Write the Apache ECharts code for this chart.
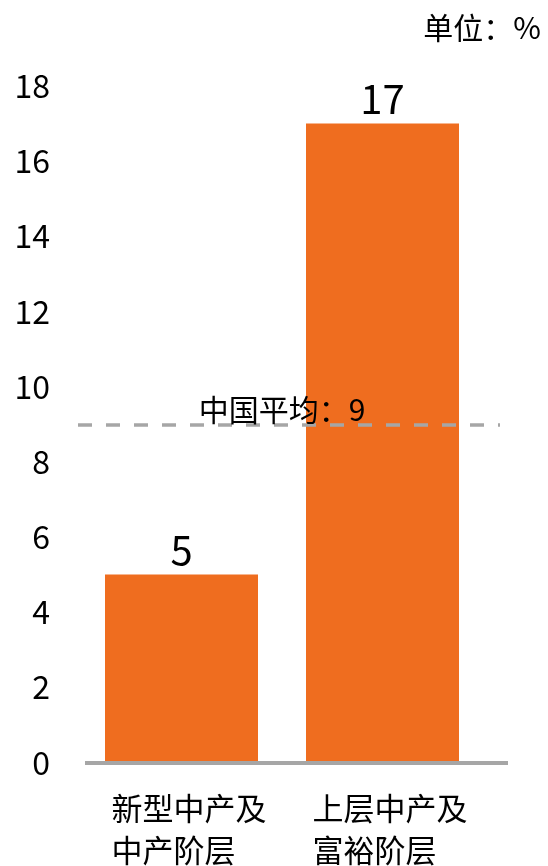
<!DOCTYPE html>
<html>
<head>
<meta charset="utf-8">
<script src="https://cdn.jsdelivr.net/npm/echarts@6/dist/echarts.min.js"></script>
<style>
html,body{margin:0;padding:0;background:#fff;}
#c{width:548px;height:866px;}
</style>
</head>
<body>
<div id="c"></div>
<script>
const categories = [["新型中产及", "中产阶层"], ["上层中产及", "富裕阶层"]];
const values = [5, 17];
const averageValue = 9;
const averageLabel = "中国平均：";
const unitText = "单位：%";
const yTicks = { min: 0, max: 18, interval: 2 };

const FONT = '"Noto Sans CJK SC", "Noto Sans", sans-serif';
const chart = echarts.init(document.getElementById('c'), null, { renderer: 'canvas' });

chart.setOption({
  animation: false,
  backgroundColor: '#ffffff',
  title: {
    text: unitText,
    right: 2,
    top: 8,
    textStyle: { fontFamily: FONT, fontSize: 30, fontWeight: 'normal', color: '#000' }
  },
  grid: { left: 81, width: 402, top: 86, bottom: 97, containLabel: false },
  xAxis: {
    type: 'category',
    data: categories.map(c => c.join('\n')),
    axisLine: { show: false },
    axisTick: { show: false },
    splitLine: { show: false },
    axisLabel: {
      margin: 25,
      interval: 0,
      formatter: function (v) {
        return v.split('\n').map(s => '{a|' + s + '}').join('\n');
      },
      rich: {
        a: { width: 140, align: 'left', fontFamily: FONT, fontSize: 31, lineHeight: 42, color: '#000' }
      }
    }
  },
  yAxis: {
    type: 'value',
    min: yTicks.min,
    max: yTicks.max,
    interval: yTicks.interval,
    axisLine: { show: false },
    axisTick: { show: false },
    splitLine: { show: false },
    axisLabel: { margin: 31, fontFamily: FONT, fontSize: 32, color: '#000' }
  },
  series: [{
    type: 'bar',
    data: values,
    barWidth: 153,
    itemStyle: { color: '#EF6D1F' },
    label: {
      show: true,
      position: 'top',
      distance: 5,
      fontFamily: FONT,
      fontSize: 40,
      color: '#000'
    },
    markLine: {
      silent: true,
      symbol: ['none', 'none'],
      data: [
        [
          { x: 78, yAxis: averageValue, lineStyle: { type: [14, 14], width: 3.5, color: '#A6A6A6' },
            label: { show: true, position: 'middle', formatter: averageLabel + averageValue, fontFamily: FONT, fontSize: 30, color: '#000', distance: 0, padding: [0, 14, 0, 0] } },
          { x: 500, yAxis: averageValue }
        ],
        [
          { x: 85, yAxis: 0, lineStyle: { type: 'solid', width: 4, color: '#A6A6A6' }, label: { show: false } },
          { x: 508, yAxis: 0 }
        ]
      ]
    }
  }]
});
</script>
</body>
</html>
